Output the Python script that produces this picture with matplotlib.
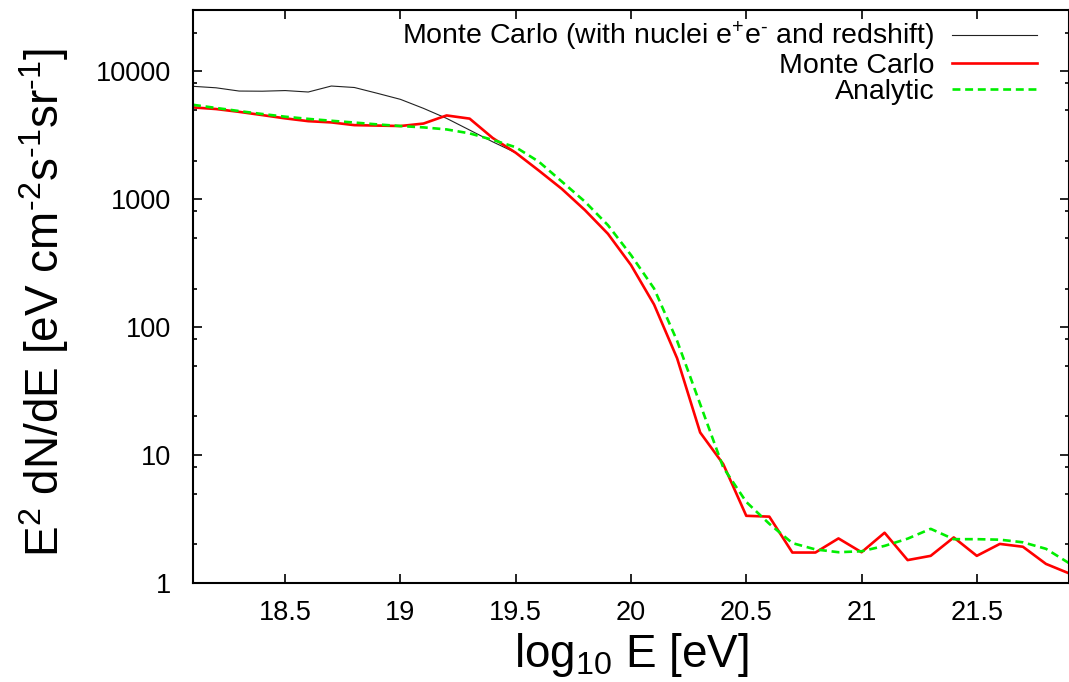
import matplotlib
matplotlib.use("Agg")
import matplotlib.pyplot as plt

plt.rcParams['font.family'] = ['Liberation Sans', 'DejaVu Sans']
plt.rcParams['mathtext.fontset'] = 'custom'
plt.rcParams['mathtext.rm'] = 'Liberation Sans'
plt.rcParams['mathtext.it'] = 'Liberation Sans:italic'
plt.rcParams['mathtext.default'] = 'rm'

# log10 E [eV]
log_e = [18.1, 18.2, 18.3, 18.4, 18.5, 18.6, 18.7, 18.8, 18.9, 19.0,
         19.1, 19.2, 19.3, 19.4, 19.5, 19.6, 19.7, 19.8, 19.9, 20.0,
         20.1, 20.2, 20.3, 20.4, 20.5, 20.6, 20.7, 20.8, 20.9, 21.0,
         21.1, 21.2, 21.3, 21.4, 21.5, 21.6, 21.7, 21.8, 21.9]

# Monte Carlo
mc = [5200, 5050, 4800, 4530, 4270, 4060, 3970, 3780, 3750, 3720,
      3890, 4500, 4250, 3000, 2300, 1670, 1200, 820, 535, 305,
      150, 57, 15, 8.5, 3.35, 3.3, 1.73, 1.73, 2.23, 1.74,
      2.47, 1.51, 1.63, 2.27, 1.63, 2.02, 1.92, 1.41, 1.19]

# Analytic
analytic = [5450, 5150, 4870, 4620, 4400, 4230, 4090, 3960, 3830, 3720,
            3630, 3500, 3260, 2900, 2540, 1960, 1370, 955, 625, 365,
            200, 78, 25, 8.0, 4.3, 2.9, 2.05, 1.83, 1.74, 1.77,
            1.95, 2.22, 2.65, 2.2, 2.2, 2.18, 2.08, 1.85, 1.43]

# Monte Carlo with nuclei, e+e- and redshift (merges with MC above 19.5)
log_e_full = [18.1, 18.2, 18.3, 18.4, 18.5, 18.6, 18.7, 18.8, 18.9, 19.0,
              19.1, 19.2, 19.3, 19.4, 19.5]
mc_full = [7600, 7400, 6980, 6960, 7040, 6860, 7640, 7440, 6700, 6010,
           5110, 4270, 3460, 2800, 2300]

y_major = [1, 10, 100, 1000, 10000]
y_major_labels = ['1', '10', '100', '1000', '10000']
y_minor = [2, 5, 8, 20, 50, 80, 200, 500, 800, 2000, 5000, 8000, 20000]
x_major = [18.5, 19, 19.5, 20, 20.5, 21, 21.5]
x_major_labels = ['18.5', '19', '19.5', '20', '20.5', '21', '21.5']

fig = plt.figure(figsize=(10.69, 6.82), dpi=100)
ax = fig.add_axes([193 / 1069, 1 - 583 / 682, 1 - 193 / 1069, (583 - 10) / 682])

ax.plot(log_e_full, mc_full, color='#222222', lw=0.8,
        label=r'Monte Carlo (with nuclei e$^{+}$e$^{\text{-}}$ and redshift)')
ax.plot(log_e, mc, color='#ff0000', lw=1.9, label='Monte Carlo')
ax.plot(log_e, analytic, color='#00ee00', lw=1.9, dashes=(3, 1.8),
        label='Analytic')

ax.set_yscale('log')
ax.set_xlim(18.1, 21.9)
ax.set_ylim(1, 30000)
ax.set_yticks(y_major)
ax.set_yticklabels(y_major_labels)
ax.set_yticks(y_minor, minor=True)
ax.set_yticklabels([], minor=True)
ax.set_xticks(x_major)
ax.set_xticklabels(x_major_labels)

ax.tick_params(which='both', direction='in', top=True, right=True, width=1.2,
               labelsize=19.5)
ax.tick_params(which='major', length=6.5)
ax.tick_params(which='minor', length=3)
ax.tick_params(axis='x', pad=12)
ax.tick_params(axis='y', pad=16)
for s in ax.spines.values():
    s.set_linewidth(1.5)

ax.set_xlabel(r'log$_{10}$ E [eV]', fontsize=33, labelpad=4)
ax.set_ylabel(r'E$^{2}$ dN/dE [eV cm$^{\text{-}2}$s$^{\text{-}1}$sr$^{\text{-}1}$]',
              fontsize=33)
ax.yaxis.set_label_coords(-0.139, 0.49)

ax.legend(loc='upper right', bbox_to_anchor=(1037 / 1069, 1 - 20 / 682),
          bbox_transform=fig.transFigure, markerfirst=False, frameon=False,
          fontsize=20.5, handlelength=3.0, handletextpad=0.6, labelspacing=0.0,
          borderaxespad=0, borderpad=0)

fig.savefig('out.png', dpi=100)
